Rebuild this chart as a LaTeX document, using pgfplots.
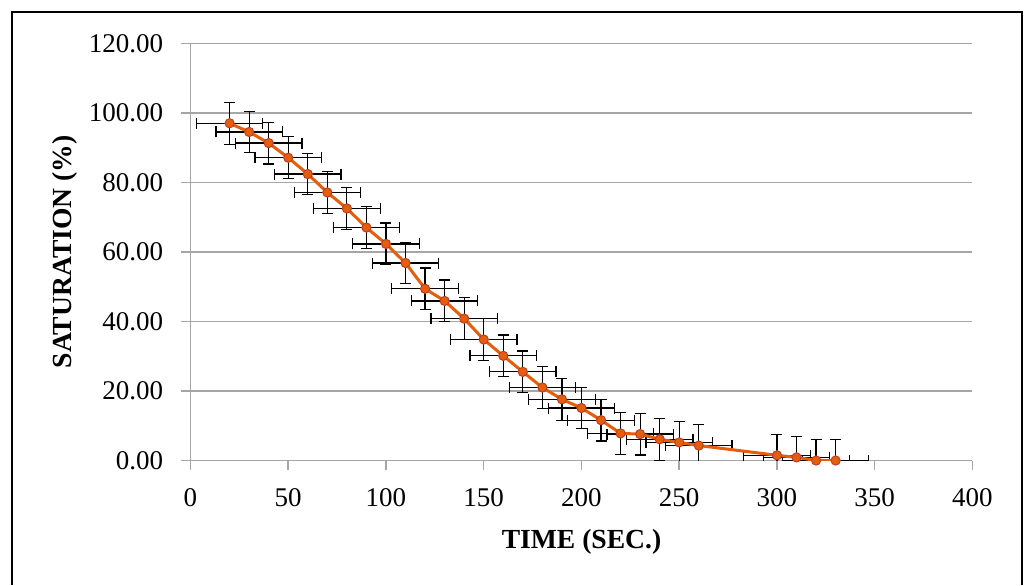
\documentclass[border=0pt]{standalone}
\usepackage{fontspec}
\setmainfont{Liberation Serif}
\usepackage{pgfplots}
\usepackage{pgfplotstable}
\pgfplotsset{compat=1.18}
\definecolor{lineor}{RGB}{228,94,12}
\definecolor{markedge}{RGB}{192,62,40}
\definecolor{gridgray}{RGB}{166,166,166}
\pgfplotstableread{
x y ex ey
20 97.0 17 6
30 94.5 17 6
40 91.3 17 6
50 87.1 17 6
60 82.4 17 6
70 77.1 17 6
80 72.5 17 6
90 67.0 17 6
100 62.3 17 6
110 56.8 17 6
120 49.4 17 6
130 45.9 17 6
140 40.8 17 6
150 34.8 17 6
160 30.1 17 6
170 25.5 17 6
180 21.0 17 6
190 17.6 17 6
200 15.1 17 6
210 11.6 17 6
220 7.8 17 6
230 7.6 17 6
240 6.1 17 6
250 5.2 17 6
260 4.3 17 6
300 1.5 17 6
310 0.9 17 6
320 0.0 17 6
330 0.0 17 6
}\sat
\begin{document}
\begin{tikzpicture}
\useasboundingbox (0,0) rectangle (512.5pt,-292.5pt);
\draw[line width=1pt] (6pt,-292.5pt) -- (6pt,-6pt) -- (511pt,-6pt) -- (511pt,-292.5pt);
\begin{axis}[
  at={(95.25pt,-230.25pt)}, anchor=south west,
  scale only axis, width=391pt, height=208.6pt,
  xmin=0, xmax=400, ymin=0, ymax=120,
  xtick={0,50,...,400}, ytick={0,20,...,120},
  axis lines*=left,
  axis line style={gridgray, line width=0.75pt},
  tick align=outside, major tick length=4.5pt,
  tick style={gridgray, line width=0.75pt},
  ymajorgrids, grid style={gridgray, line width=0.75pt},
  /pgf/number format/assume math mode=true,
  ticklabel style={font=\fontsize{13.5}{16}\selectfont},
  yticklabel={\pgfmathprintnumber[fixed,fixed zerofill,precision=2]{\tick}},
  xticklabel={\pgfmathprintnumber[fixed,precision=0]{\tick}},
  yticklabel style={anchor=east, inner sep=0pt, xshift=-9pt},
  xticklabel style={anchor=north, inner sep=0pt, yshift=-9.25pt},
  xlabel={TIME (SEC.)}, ylabel={SATURATION (\%)},
  label style={font=\bfseries\fontsize{13.8}{16}\selectfont},
  xlabel style={at={(axis description cs:0.5,0)}, anchor=center, yshift=-40.75pt},
  ylabel style={at={(axis description cs:0,0.5)}, anchor=center, yshift=62.75pt},
  clip mode=individual,
]
\addplot[only marks, mark=none, forget plot,
  error bars/.cd, x dir=both, x explicit, y dir=both, y explicit,
  error bar style={black, line width=0.6pt},
  error mark options={rotate=90, mark size=2.75pt, black, line width=0.6pt}]
  table[x=x, y=y, x error=ex, y error=ey] {\sat};
\addplot[color=lineor, line width=1.5pt, mark=*, mark size=2.3pt,
  mark options={fill=lineor, draw=markedge, line width=0.5pt}]
  table[x=x, y=y] {\sat};
\end{axis}
\end{tikzpicture}
\end{document}
